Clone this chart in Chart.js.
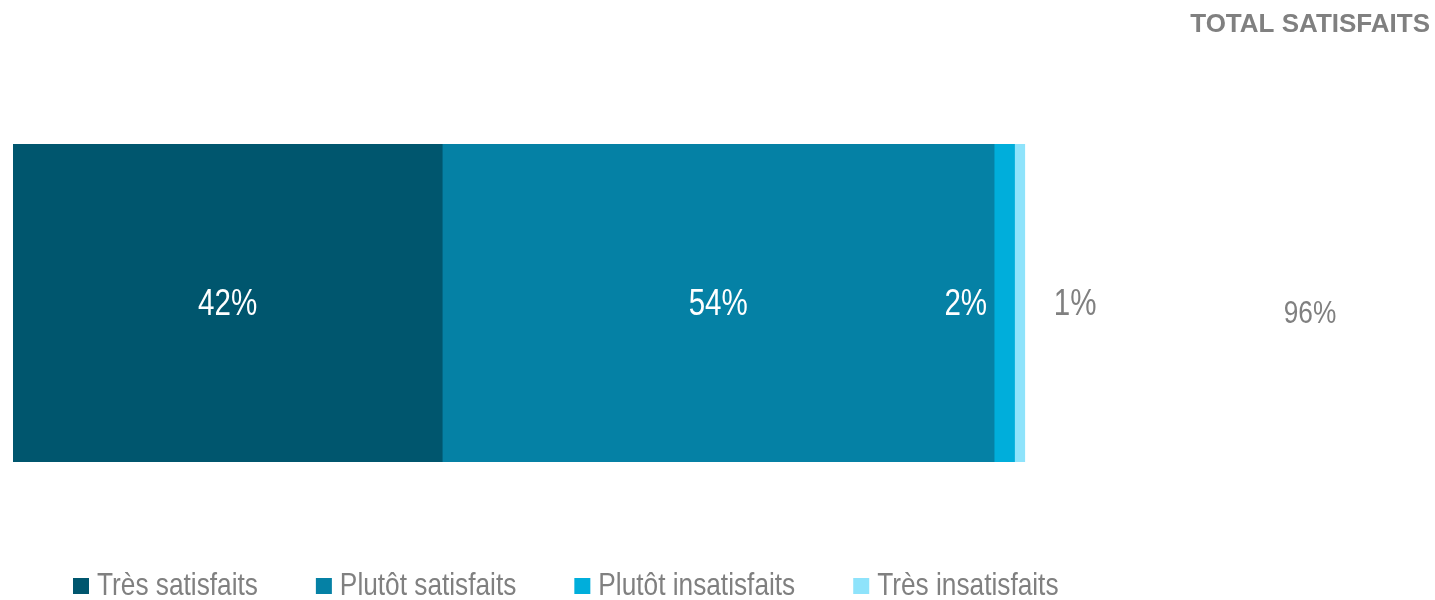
<!DOCTYPE html>
<html lang="fr">
<head>
<meta charset="utf-8">
<title>Satisfaction</title>
<script src="https://cdn.jsdelivr.net/npm/chart.js@4"></script>
<style>
  html, body { margin: 0; padding: 0; background: #ffffff; }
  #wrap { position: relative; width: 1435px; height: 600px; }
</style>
</head>
<body>
<div id="wrap"><canvas id="chart" width="1435" height="600"></canvas></div>
<script>
// Single stacked bar: satisfaction breakdown (in %)
const categories = ['Satisfaction'];
const seriesNames = ['Très satisfaits', 'Plutôt satisfaits', 'Plutôt insatisfaits', 'Très insatisfaits'];
const seriesValues = [42, 54, 2, 1];
const seriesColors = ['#00566E', '#0581A5', '#00AEDB', '#8EE3FB'];
const totalTitle = 'TOTAL SATISFAITS';
const totalSatisfied = seriesValues[0] + seriesValues[1];

const SANS = "'Liberation Sans', Arial, sans-serif";
const GREY = '#808080';
const CONDENSE = 0.82; // horizontal squeeze for a narrow look

// where each segment's value label sits
const labelPlacement = ['center', 'center', 'beforeStart', 'afterEnd'];

// draw horizontally condensed text
function narrowText(ctx, txt, x, y, align) {
  ctx.save();
  ctx.translate(x, y);
  ctx.scale(CONDENSE, 1);
  ctx.textAlign = align;
  ctx.fillText(txt, 0, 0);
  ctx.restore();
}

const valueLabels = {
  id: 'valueLabels',
  afterDatasetsDraw(chart) {
    const ctx = chart.ctx;
    ctx.save();
    ctx.font = '36px ' + SANS;
    ctx.textBaseline = 'middle';
    chart.data.datasets.forEach((ds, i) => {
      const bar = chart.getDatasetMeta(i).data[0];
      const txt = ds.data[0] + '%';
      const mode = labelPlacement[i];
      if (mode === 'center') {
        ctx.fillStyle = '#ffffff';
        narrowText(ctx, txt, (bar.x + bar.base) / 2, bar.y + 2, 'center');
      } else if (mode === 'beforeStart') {
        ctx.fillStyle = '#ffffff';
        narrowText(ctx, txt, bar.base - 7, bar.y + 2, 'right');
      } else {
        ctx.fillStyle = GREY;
        narrowText(ctx, txt, bar.x + 29, bar.y + 2, 'left');
      }
    });
    // total column
    const y = chart.getDatasetMeta(0).data[0].y;
    ctx.fillStyle = GREY;
    ctx.font = '32px ' + SANS;
    narrowText(ctx, totalSatisfied + '%', chart.width - 125, y + 11, 'center');
    ctx.font = 'bold 26px ' + SANS;
    ctx.textAlign = 'right';
    ctx.fillText(totalTitle, chart.width - 5, 25);
    ctx.restore();
  }
};

const bottomLegend = {
  id: 'bottomLegend',
  afterDraw(chart) {
    const ctx = chart.ctx;
    ctx.save();
    ctx.font = '32px ' + SANS;
    ctx.textBaseline = 'middle';
    let x = 73;
    const yc = 586;
    chart.data.datasets.forEach((ds) => {
      ctx.fillStyle = ds.backgroundColor;
      ctx.fillRect(x, yc - 8, 16, 16);
      ctx.fillStyle = GREY;
      narrowText(ctx, ds.label, x + 24, yc, 'left');
      x += 24 + ctx.measureText(ds.label).width * CONDENSE + 58;
    });
    ctx.restore();
  }
};

new Chart(document.getElementById('chart'), {
  type: 'bar',
  data: {
    labels: categories,
    datasets: seriesNames.map((name, i) => ({
      label: name,
      data: [seriesValues[i]],
      backgroundColor: seriesColors[i],
      borderWidth: 0,
      barPercentage: 1,
      categoryPercentage: 1
    }))
  },
  options: {
    indexAxis: 'y',
    responsive: false,
    animation: false,
    layout: { padding: { left: 13, right: 400, top: 144, bottom: 138 } },
    scales: {
      x: { stacked: true, min: 0, max: 100, display: false },
      y: { stacked: true, display: false }
    },
    plugins: {
      legend: { display: false },
      tooltip: { enabled: false }
    }
  },
  plugins: [valueLabels, bottomLegend]
});
</script>
</body>
</html>
